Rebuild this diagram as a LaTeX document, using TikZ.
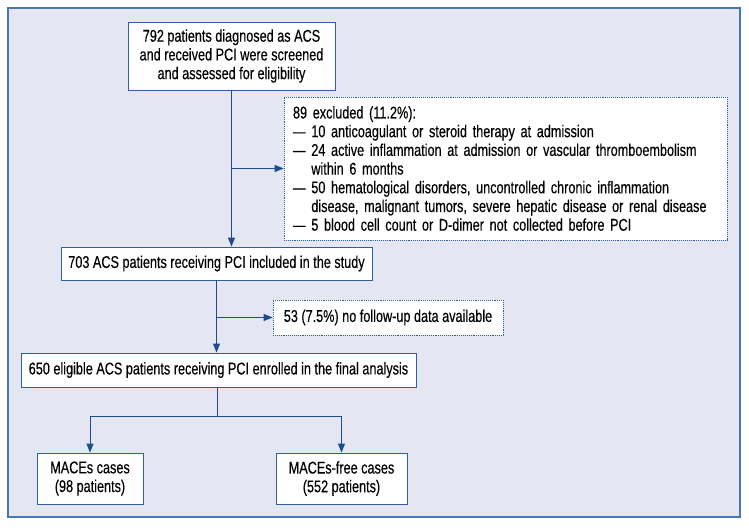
\documentclass[tikz,border=0pt]{standalone}
\usepackage{fontspec}
\setmainfont{Liberation Sans}[FakeStretch=0.745, FakeBold=0.3]
\usetikzlibrary{arrows.meta,positioning,calc}
\definecolor{framebg}{HTML}{E4E6F2}
\definecolor{frameline}{HTML}{4A76B4}
\definecolor{boxline}{HTML}{2F5E9E}
\definecolor{arrowline}{HTML}{1E4D8C}

\begin{document}
\begin{tikzpicture}[x=1pt, y=-1pt, >={Triangle[length=9pt,width=7pt]},
    box/.style={draw=boxline, fill=white, line width=0.9pt, inner sep=0pt,
                align=center, font=\fontsize{17}{18.7}\selectfont},
    dotbox/.style={box, densely dotted, line width=0.7pt},
    flow/.style={->, draw=arrowline, line width=1pt}]

% Page size and frame
\useasboundingbox (0,0) rectangle (749,527);
\draw[frameline, fill=framebg, line width=1.3pt] (8,8) rectangle (740,517);

% Branch level for the two outcome groups
\def\branchy{416}

% Main boxes
\node[box, minimum width=207pt, minimum height=68pt] (screened) at (231.5,56)
    {792 patients diagnosed as ACS\\and received PCI were screened\\and assessed for eligibility};
\node[box, minimum width=311pt, minimum height=33pt] (included) at (216.5,263.5)
    {703 ACS patients receiving PCI included in the study};
\node[box, minimum width=395pt, minimum height=34pt] (enrolled) at (218.5,370)
    {650 eligible ACS patients receiving PCI enrolled in the final analysis};

% Exclusion boxes
\node[dotbox, minimum width=443pt, minimum height=143pt, text width=425pt,
      inner xsep=9pt, align=left] (excluded) at (505.5,168.5)
    {89 excluded (11.2\%):\\
     \textemdash{} 10 anticoagulant or steroid therapy at admission\\
     \textemdash{} 24 active inflammation at admission or vascular thromboembolism\\
     \phantom{\textemdash{} }within 6 months\\
     \textemdash{} 50 hematological disorders, uncontrolled chronic inflammation\\
     \phantom{\textemdash{} }disease, malignant tumors, severe hepatic disease or renal disease\\
     \textemdash{} 5 blood cell count or D-dimer not collected before PCI};
\node[dotbox, minimum width=230pt, minimum height=35pt] (lost) at (388,317.5)
    {53 (7.5\%) no follow-up data available};

% Outcome groups
\node[box, minimum width=106pt, minimum height=51pt] (maces) at (90,478.5)
    {MACEs cases\\(98 patients)};
\node[box, minimum width=131pt, minimum height=51pt] (macesfree) at (341.5,478.5)
    {MACEs-free cases\\(552 patients)};

% Main flow
\draw[flow] (screened.south) -- (screened.south |- included.north);
\draw[flow] (included.south) -- (included.south |- enrolled.north);

% Side exits
\draw[flow] (screened.south |- excluded.west) -- (excluded.west);
\draw[flow] (included.south |- lost.west) -- (lost.west);

% Split into the two groups
\coordinate (split) at ($(enrolled.south)+(-1.5,0)$);
\draw[draw=arrowline, line width=1pt] (split) -- (split |- 0,\branchy);
\draw[flow] (split |- 0,\branchy) -| (maces.north);
\draw[flow] (split |- 0,\branchy) -| (macesfree.north);

\end{tikzpicture}
\end{document}
